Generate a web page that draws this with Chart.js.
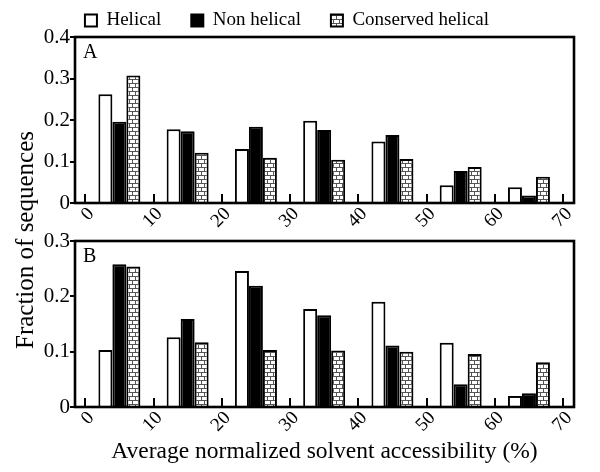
<!DOCTYPE html>
<html><head><meta charset="utf-8">
<script src="https://cdn.jsdelivr.net/npm/chart.js@4/dist/chart.umd.min.js"></script>
<style>
html,body{margin:0;padding:0;background:#fff;}
#wrap{position:relative;width:600px;height:472px;overflow:hidden;background:#fff;}
#ca{position:absolute;left:0;top:0;}
#cb{position:absolute;left:0;top:225px;}
#ytitle{position:absolute;left:25px;top:240px;transform:translate(-50%,-50%) rotate(-90deg);font:25px 'Liberation Serif','Times New Roman',serif;white-space:nowrap;color:#000;}
</style></head><body>
<div id="wrap">
<canvas id="ca" width="600" height="240"></canvas>
<canvas id="cb" width="600" height="247"></canvas>
<div id="ytitle">Fraction of sequences</div>
</div>
<script>
const binCenters = [5, 15, 25, 35, 45, 55, 65];
const xTickValues = [0, 10, 20, 30, 40, 50, 60, 70];
const seriesNames = ['Helical', 'Non helical', 'Conserved helical'];
const helicalA    = [0.262, 0.178, 0.130, 0.198, 0.148, 0.043, 0.038];
const nonHelicalA = [0.196, 0.173, 0.184, 0.176, 0.164, 0.077, 0.018];
const conservedA  = [0.307, 0.121, 0.109, 0.104, 0.106, 0.087, 0.063];
const helicalB    = [0.103, 0.126, 0.246, 0.177, 0.190, 0.116, 0.020];
const nonHelicalB = [0.258, 0.159, 0.219, 0.166, 0.111, 0.041, 0.025];
const conservedB  = [0.254, 0.117, 0.103, 0.102, 0.100, 0.096, 0.081];
const yTicksA = [0, 0.1, 0.2, 0.3, 0.4];
const yTicksB = [0, 0.1, 0.2, 0.3];
const xTitle = 'Average normalized solvent accessibility (%)';

const FAM = "'Liberation Serif','Times New Roman',serif";

function brickPattern(){
  const c = document.createElement('canvas'); c.width = 6; c.height = 8;
  const g = c.getContext('2d');
  g.fillStyle = '#fff'; g.fillRect(0,0,6,8);
  g.strokeStyle = '#555'; g.lineWidth = 1;
  g.beginPath();
  g.moveTo(0,3.5); g.lineTo(6,3.5);
  g.moveTo(0,7.5); g.lineTo(6,7.5);
  g.moveTo(0.5,0); g.lineTo(0.5,3.5);
  g.moveTo(3.5,4); g.lineTo(3.5,7.5);
  g.stroke();
  return g.createPattern(c, 'repeat');
}
const brick = brickPattern();

function pts(arr){ return binCenters.map((x,i)=>({x:x, y:arr[i]})); }
function datasets(h, n, c){
  const base = {borderColor:'#000', borderWidth:2, categoryPercentage:0.615, barPercentage:1.0};
  return [
    Object.assign({label:seriesNames[0], data:pts(h), backgroundColor:'#fff'}, base),
    Object.assign({label:seriesNames[1], data:pts(n), backgroundColor:'#000'}, base),
    Object.assign({label:seriesNames[2], data:pts(c), backgroundColor:brick}, base)
  ];
}

const framePlugin = {
  id:'frame',
  afterDraw(chart, args, opts){
    const ctx = chart.ctx, a = chart.chartArea, xs = chart.scales.x;
    ctx.save();
    ctx.strokeStyle = '#000';
    ctx.lineWidth = 2;
    ctx.beginPath();
    xTickValues.forEach(v=>{
      const px = Math.round(xs.getPixelForValue(v));
      ctx.moveTo(px, a.bottom); ctx.lineTo(px, a.bottom-9);
    });
    ctx.stroke();
    ctx.lineWidth = 2.6;
    ctx.strokeRect(a.left, a.top, a.right-a.left, a.bottom-a.top);
    ctx.fillStyle = '#000';
    ctx.font = "20px " + FAM;
    ctx.textBaseline = 'top';
    ctx.textAlign = 'left';
    ctx.fillText(opts.text, a.left + 8, a.top + 6);
    ctx.restore();
  }
};

function makeOptions(panel, yMax, yTicks, isBottom){
  return {
    responsive:false, animation:false, devicePixelRatio:1,
    layout:{padding: isBottom ? {top:16, right:26, left:0, bottom:0} : {top:-19, right:26, left:0, bottom:0}},
    plugins:{
      tooltip:{enabled:false},
      frame:{text:panel},
      legend: isBottom ? {display:false} : {
        display:true, position:'top', maxHeight:56,
        labels:{font:{family:FAM, size:19, lineHeight:1.0}, color:'#000', boxWidth:12, boxHeight:12, padding:30}
      }
    },
    scales:{
      x:{
        type:'linear', min:-1.5, max:71.6, offset:false,
        afterBuildTicks: s => { s.ticks = xTickValues.map(v=>({value:v})); },
        grid:{display:false, drawTicks:false, tickLength:0}, border:{display:false},
        ticks:{autoSkip:false, minRotation:45, maxRotation:45, color:'#000', font:{family:FAM, size:19}, padding:0, labelOffset:6, callback:v=>String(v)},
        title: isBottom ? {display:true, text:xTitle, color:'#000', font:{family:FAM, size:23.5}, padding:{top:0, bottom:6}} : {display:false},
        afterFit: s => { s.height = isBottom ? 65 : 37; }
      },
      y:{
        min:0, max:yMax,
        afterBuildTicks: s => { s.ticks = yTicks.map(v=>({value:v})); },
        grid:{drawOnChartArea:false, tickLength:5, color:'#000', lineWidth:2},
        border:{display:false},
        ticks:{color:'#000', font:{family:FAM, size:21}, padding:0, callback:v=>String(v)},
        afterFit: s => { s.width = 75; }
      }
    }
  };
}

new Chart(document.getElementById('ca'), {
  type:'bar',
  data:{datasets:datasets(helicalA, nonHelicalA, conservedA)},
  options:makeOptions('A', 0.4, yTicksA, false),
  plugins:[framePlugin]
});
new Chart(document.getElementById('cb'), {
  type:'bar',
  data:{datasets:datasets(helicalB, nonHelicalB, conservedB)},
  options:makeOptions('B', 0.3, yTicksB, true),
  plugins:[framePlugin]
});
</script>
</body></html>
